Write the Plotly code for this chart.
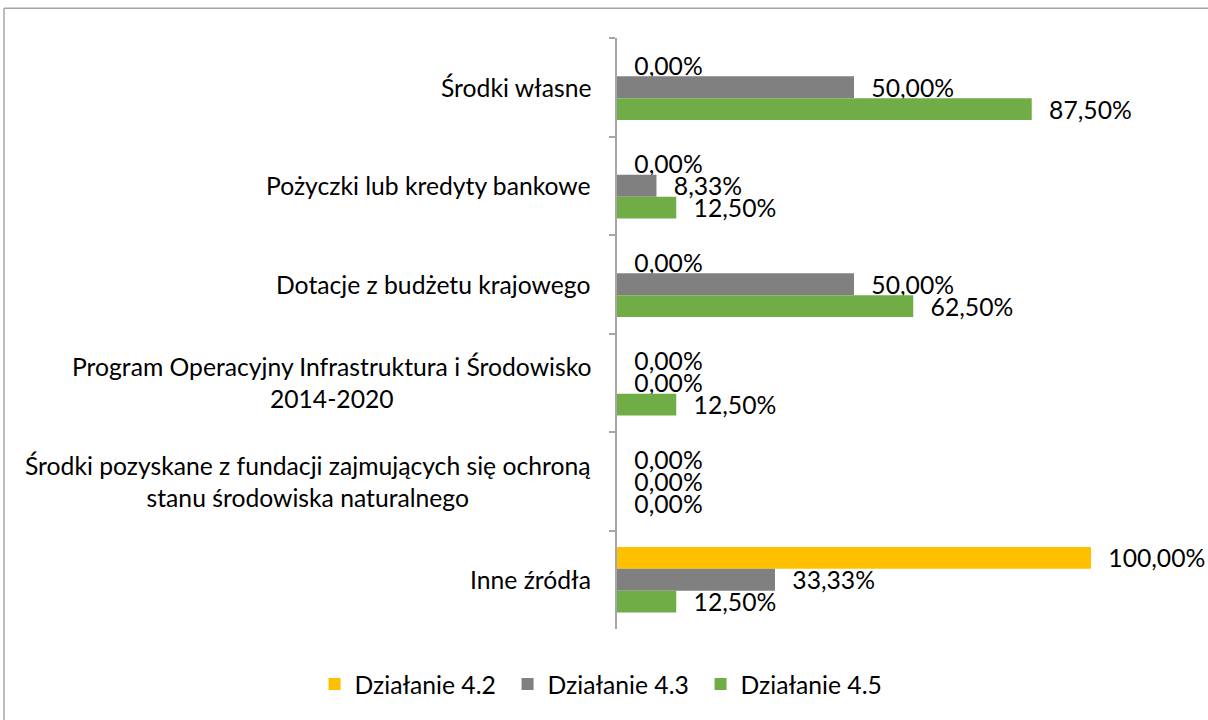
import plotly.graph_objects as go

# Funding sources (category axis), top to bottom
categories = [
    "Środki własne",
    "Pożyczki lub kredyty bankowe",
    "Dotacje z budżetu krajowego",
    "Program Operacyjny Infrastruktura i Środowisko<br>2014-2020",
    "Środki pozyskane z fundacji zajmujących się ochroną<br>stanu środowiska naturalnego",
    "Inne źródła",
]

# Share of projects per source for each measure (fractions)
series_names = ["Działanie 4.2", "Działanie 4.3", "Działanie 4.5"]
values_42 = [0.0, 0.0, 0.0, 0.0, 0.0, 1.0]
values_43 = [0.50, 0.0833, 0.50, 0.0, 0.0, 0.3333]
values_45 = [0.875, 0.125, 0.625, 0.125, 0.0, 0.125]
series_values = [values_42, values_43, values_45]
series_colors = ["#FFC000", "#808080", "#70AD47"]

FONT = "Lato, 'Open Sans', sans-serif"
FS = 24.7

fig = go.Figure()
for name, vals, color in zip(series_names, series_values, series_colors):
    fig.add_trace(go.Bar(
        name=name,
        y=categories,
        x=vals,
        orientation="h",
        marker=dict(color=color, line=dict(width=0)),
        texttemplate="\u2007%{x:.2%}",
        textposition="outside",
        constraintext="none",
        textfont=dict(family=FONT, size=FS, color="#000000"),
        cliponaxis=False,
        hoverinfo="skip",
    ))

# Category labels drawn as centred multi-line text to the left of the axis
for cat in categories:
    fig.add_annotation(
        x=0, xref="paper", y=cat, yref="y",
        text=cat, showarrow=False,
        xanchor="right", yanchor="middle", align="center",
        xshift=-24,
        font=dict(family=FONT, size=FS, color="#000000"),
    )

# Chart frame (left and top edges)
fig.add_shape(type="line", xref="paper", yref="paper",
              x0=-1.0888, x1=1.2, y0=1.0505, y1=1.0505,
              line=dict(color="#A6A6A6", width=1.5))
fig.add_shape(type="line", xref="paper", yref="paper",
              x0=-1.0888, x1=-1.0888, y0=1.0505, y1=-0.2,
              line=dict(color="#A6A6A6", width=1.5))

fig.update_layout(
    width=1208, height=720,
    margin=dict(l=617, r=28, t=38, b=88),
    paper_bgcolor="white", plot_bgcolor="white",
    barmode="group", bargap=0.333, bargroupgap=0,
    separators=", ",
    showlegend=True,
    legend=dict(
        orientation="h", x=-0.023, xanchor="center",
        y=-0.094, yanchor="middle",
        font=dict(family=FONT, size=FS, color="#000000"),
        traceorder="normal",
        itemwidth=30,
        entrywidth=148, entrywidthmode="pixels",
    ),
    xaxis=dict(range=[0, 1.1878], visible=False, fixedrange=True),
    yaxis=dict(
        autorange="reversed", showticklabels=False,
        showline=True, linecolor="#A6A6A6", linewidth=1.5,
        ticks="outside", tickson="boundaries", ticklen=6,
        tickcolor="#A6A6A6", tickwidth=1.5,
        showgrid=False, zeroline=False,
    ),
)

fig.write_html("out.html")
